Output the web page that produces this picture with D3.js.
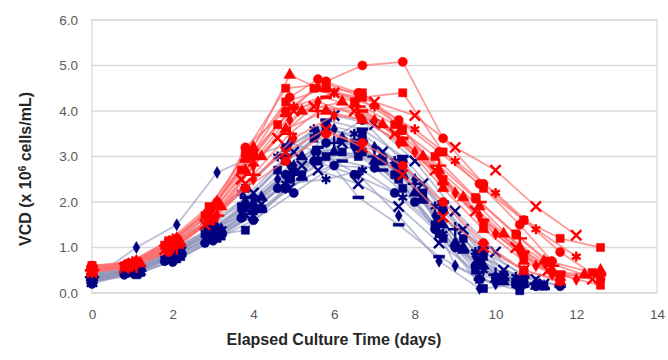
<!DOCTYPE html>
<html><head><meta charset="utf-8">
<script src="https://cdn.jsdelivr.net/npm/d3@7"></script>
<style>body{margin:0;background:#fff}svg{display:block}</style>
</head><body><svg id="c" width="668" height="360"></svg>
<script>
const xTicks = [0, 2, 4, 6, 8, 10, 12, 14];
const yTicks = [0, 1, 2, 3, 4, 5, 6];
const daysA = [0, 0.9, 1.9, 2.9, 3.8, 4.8, 5.8, 6.7, 7.7, 8.7, 9.7, 10.7, 11.6, 12.6];
const daysB = [0, 1, 2, 3, 4, 5, 6, 7, 8, 9, 10, 11, 12];
const daysC = [0, 1.1, 2.1, 3.1, 4, 4.9, 5.6, 6.6, 7.6, 8.6, 9.6, 10.6, 11.4];
const daysD = [0, 0.8, 1.8, 2.8, 3.7, 4.6, 5.5, 6.5, 7.5, 8.5, 9.5, 10.5, 11.3, 12.4];
const daysE = [0, 1.2, 2.2, 3.2, 4.2, 5.2, 6.2, 7.2, 8.2, 9.2, 10.2, 11.2, 12.2];

const blueSeries = [
  {days: daysC, shape: "diamond", vcd: [0.30, 1.00, 1.50, 2.65, 3.00, 3.30, 3.10, 2.60, 1.70, 0.70, 0.10]},
  {days: daysB, shape: "circle", vcd: [0.20, 0.45, 0.68, 1.15, 1.60, 2.20, 2.80, 2.75, 2.00, 1.00, 0.35, 0.15]},
  {days: daysA, shape: "square", vcd: [0.30, 0.50, 0.90, 1.25, 1.38, 2.30, 3.00, 3.10, 2.30, 1.20, 0.10, 0.20]},
  {days: daysA, shape: "triangle", vcd: [0.35, 0.55, 1.05, 1.50, 2.00, 2.90, 3.60, 3.40, 2.60, 1.50, 0.60, 0.20]},
  {days: daysB, shape: "x", vcd: [0.40, 0.60, 1.00, 1.60, 2.20, 3.10, 3.90, 3.70, 2.90, 1.80, 0.90, 0.30]},
  {days: daysC, shape: "dash", vcd: [0.30, 0.50, 0.85, 1.30, 1.90, 2.60, 3.20, 2.10, 1.50, 0.80, 0.30, 0.15]},
  {days: daysA, shape: "star", vcd: [0.25, 0.45, 0.80, 1.20, 1.70, 2.40, 2.50, 2.70, 2.10, 1.30, 0.50, 0.20]},
  {days: daysB, shape: "plus", vcd: [0.35, 0.50, 0.90, 1.40, 1.80, 2.60, 3.30, 3.00, 2.40, 1.40, 0.40, 0.20]},
  {days: daysC, shape: "diamond", vcd: [0.30, 0.55, 0.95, 1.45, 2.10, 2.80, 3.50, 3.20, 2.70, 1.60, 0.70, 0.25]},
  {days: daysA, shape: "square", vcd: [0.40, 0.60, 1.10, 1.70, 2.30, 3.20, 3.70, 3.50, 2.80, 1.90, 0.80, 0.30]},
  {days: daysB, shape: "triangle", vcd: [0.30, 0.50, 0.85, 1.35, 1.95, 2.70, 3.10, 2.90, 2.20, 1.10, 0.30, 0.15]},
  {days: daysC, shape: "square", vcd: [0.25, 0.40, 0.75, 1.20, 1.80, 2.50, 2.90, 3.00, 2.50, 1.30, 0.30, 0.05]},
  {days: daysA, shape: "circle", vcd: [0.30, 0.45, 0.80, 1.30, 1.90, 2.60, 3.30, 3.80, 2.90, 1.80, 0.90, 0.40, 0.15]},
  {days: daysB, shape: "diamond", vcd: [0.40, 0.55, 0.95, 1.45, 2.00, 2.80, 3.60, 3.20, 2.50, 0.60, 0.20]},
  {days: daysC, shape: "x", vcd: [0.25, 0.45, 0.85, 1.30, 1.70, 2.30, 2.70, 2.40, 1.90, 1.10, 0.40, 0.20]},
  {days: daysA, shape: "dash", vcd: [0.30, 0.55, 0.90, 1.40, 2.10, 3.00, 3.80, 3.60, 3.00, 2.00, 1.00, 0.35, 0.15]},
  {days: daysD, shape: "square", vcd: [0.30, 0.50, 0.85, 1.30, 1.90, 2.70, 3.40, 3.30, 2.60, 1.50, 0.50, 0.20]},
  {days: daysE, shape: "triangle", vcd: [0.35, 0.55, 0.95, 1.40, 2.10, 3.00, 3.40, 2.90, 2.10, 1.00, 0.25, 0.15]},
  {days: daysD, shape: "diamond", vcd: [0.25, 0.45, 0.80, 1.25, 1.80, 2.50, 3.10, 3.20, 2.80, 1.70, 0.80, 0.25]},
  {days: daysE, shape: "x", vcd: [0.30, 0.50, 0.90, 1.35, 1.95, 2.80, 3.30, 3.10, 2.40, 1.40, 0.50, 0.20]},
  {days: daysD, shape: "star", vcd: [0.35, 0.55, 1.00, 1.55, 2.20, 3.00, 3.60, 3.50, 2.90, 1.90, 0.90, 0.35]},
  {days: daysE, shape: "square", vcd: [0.30, 0.45, 0.80, 1.25, 1.85, 2.60, 3.10, 2.90, 2.20, 1.20, 0.40, 0.15]},
  {days: daysD, shape: "circle", vcd: [0.25, 0.40, 0.70, 1.10, 1.65, 2.30, 2.90, 2.60, 2.20, 1.40, 0.60, 0.20]},
  {days: daysE, shape: "dash", vcd: [0.35, 0.50, 0.85, 1.30, 1.80, 2.50, 2.90, 2.70, 2.00, 0.90, 0.30, 0.10]}
];

const redSeries = [
  {days: daysA, shape: "circle", vcd: [0.50, 0.55, 0.90, 1.60, 3.20, 4.00, 4.65, 5.00, 5.08, 3.40, 2.40, 1.60, 0.90, 0.30]},
  {days: daysA, shape: "circle", vcd: [0.50, 0.60, 1.00, 1.60, 2.30, 2.90, 3.50, 3.30, 2.80, 2.00, 1.10, 0.50, 0.25]},
  {days: daysC, shape: "triangle", vcd: [0.55, 0.70, 1.20, 2.00, 3.20, 4.79, 4.50, 4.30, 3.70, 2.70, 1.90, 1.00, 0.50]},
  {days: daysA, shape: "square", vcd: [0.60, 0.60, 1.10, 1.80, 3.10, 4.50, 4.60, 4.30, 4.40, 3.10, 2.30, 1.60, 1.20, 1.00]},
  {days: daysB, shape: "x", vcd: [0.50, 0.65, 1.10, 1.80, 2.90, 4.00, 4.40, 4.20, 3.90, 3.20, 2.70, 1.90, 1.27]},
  {days: daysA, shape: "x", vcd: [0.50, 0.60, 1.00, 1.60, 2.40, 3.10, 3.60, 3.20, 2.60, 1.67, 1.00, 0.50, 0.29]},
  {days: daysC, shape: "diamond", vcd: [0.45, 0.60, 1.05, 1.70, 2.80, 3.80, 4.20, 3.90, 3.30, 2.60, 1.70, 0.90, 0.40]},
  {days: daysB, shape: "star", vcd: [0.55, 0.70, 1.20, 1.90, 3.00, 4.10, 4.40, 4.10, 3.60, 2.90, 2.20, 1.40, 0.80]},
  {days: daysA, shape: "triangle", vcd: [0.50, 0.60, 1.00, 1.70, 2.70, 3.60, 4.00, 3.80, 3.30, 2.30, 1.40, 0.70, 0.35, 0.50]},
  {days: daysA, shape: "square", vcd: [0.60, 0.65, 1.15, 1.90, 3.00, 4.20, 4.50, 4.40, 3.60, 2.50, 1.50, 0.80, 0.40, 0.17]},
  {days: daysC, shape: "plus", vcd: [0.50, 0.60, 1.00, 1.70, 2.60, 3.50, 4.00, 4.10, 3.50, 2.80, 2.00, 1.20, 0.60]},
  {days: daysA, shape: "dash", vcd: [0.55, 0.65, 1.10, 1.80, 2.90, 3.90, 4.30, 4.00, 3.40, 2.40, 1.60, 0.90, 0.45, 0.40]},
  {days: daysB, shape: "diamond", vcd: [0.50, 0.60, 1.00, 1.60, 2.50, 3.40, 3.90, 3.80, 3.10, 2.20, 1.30, 0.60, 0.30]},
  {days: daysC, shape: "circle", vcd: [0.60, 0.70, 1.20, 2.00, 3.10, 4.30, 4.70, 4.40, 3.80, 3.10, 2.40, 1.50, 0.70]},
  {days: daysD, shape: "square", vcd: [0.50, 0.60, 1.05, 1.70, 2.70, 3.70, 4.50, 4.20, 3.70, 3.00, 2.10, 1.30, 0.70, 0.45]},
  {days: daysE, shape: "triangle", vcd: [0.55, 0.65, 1.10, 1.90, 3.00, 4.00, 4.20, 3.70, 3.00, 2.10, 1.30, 0.70, 0.40]},
  {days: daysD, shape: "x", vcd: [0.45, 0.55, 0.95, 1.50, 2.50, 3.40, 4.10, 4.00, 3.50, 2.70, 1.80, 1.00, 0.50, 0.30]}
];

const svg = d3.select("#c");
const L = 92, R = 657, T = 20, B = 293;
const x = d3.scaleLinear().domain([0, 14]).range([L, R]);
const y = d3.scaleLinear().domain([0, 6]).range([B, T]);
const font = "'Liberation Sans', Arial, sans-serif";

// gridlines
svg.append("g").selectAll("line").data(yTicks).join("line")
  .attr("x1", L).attr("x2", R).attr("y1", d => y(d)).attr("y2", d => y(d))
  .attr("stroke", "#d9d9d9").attr("stroke-width", 1.3);
svg.append("rect").attr("x", L).attr("y", T).attr("width", R - L).attr("height", B - T)
  .attr("fill", "none").attr("stroke", "#d9d9d9").attr("stroke-width", 1.3);

// axes
const yAxis = svg.append("g").attr("transform", `translate(${L},0)`)
  .call(d3.axisLeft(y).tickValues(yTicks).tickFormat(d3.format(".1f")).tickSize(0).tickPadding(14));
const xAxis = svg.append("g").attr("transform", `translate(0,${B})`)
  .call(d3.axisBottom(x).tickValues(xTicks).tickSize(0).tickPadding(16));
[yAxis, xAxis].forEach(a => {
  a.select(".domain").remove();
  a.selectAll("text").attr("fill", "#595959").attr("font-size", 13.5).attr("font-family", font);
});

svg.append("text").attr("x", 334).attr("y", 345).attr("text-anchor", "middle")
  .attr("font-family", font).attr("font-weight", "bold").attr("font-size", 16).attr("fill", "#262626")
  .text("Elapsed Culture Time (days)");
const yt = svg.append("text").attr("transform", "translate(31,169) rotate(-90)").attr("text-anchor", "middle")
  .attr("font-family", font).attr("font-weight", "bold").attr("font-size", 16).attr("fill", "#262626");
yt.append("tspan").text("VCD (x 10");
yt.append("tspan").attr("baseline-shift", "super").attr("font-size", 10).text("6");
yt.append("tspan").text(" cells/mL)");

const line = d3.line().x(d => x(d[0])).y(d => y(d[1]));
const pts = s => s.vcd.map((v, i) => [s.days[i], v]);

function marker(g, shape, color) {
  const p = {
    diamond: d3.symbol(d3.symbolDiamond, 42)(),
    square: d3.symbol(d3.symbolSquare, 66)(),
    triangle: d3.symbol(d3.symbolTriangle, 60)(),
    circle: d3.symbol(d3.symbolCircle, 66)(),
    x: d3.symbol(d3.symbolTimes, 70)(),
    plus: d3.symbol(d3.symbolPlus, 70)(),
    star: d3.symbol(d3.symbolAsterisk, 70)(),
    dash: "M-5.5,-1.5H5.5V1.5H-5.5Z"
  }[shape];
  const stroked = ["x", "plus", "star"].includes(shape);
  g.append("path").attr("d", p)
    .attr("fill", stroked ? "none" : color)
    .attr("stroke", color).attr("stroke-width", stroked ? 2.4 : 0.5);
}

function drawLines(series, color, op) {
  svg.append("g").selectAll("path").data(series).join("path")
    .attr("d", s => line(pts(s))).attr("fill", "none")
    .attr("stroke", color).attr("stroke-opacity", op).attr("stroke-width", 1.8);
}
function drawMarkers(series, color) {
  const g = svg.append("g");
  series.forEach(s => {
    pts(s).forEach(p => {
      const m = g.append("g").attr("transform", `translate(${x(p[0])},${y(p[1])})`);
      marker(m, s.shape, color);
    });
  });
}
drawLines(blueSeries, "#8f95bb", 0.6);
drawMarkers(blueSeries, "#000080");
drawLines(redSeries, "#ff6f6f", 0.7);
drawMarkers(redSeries, "#ff0000");
</script></body></html>
